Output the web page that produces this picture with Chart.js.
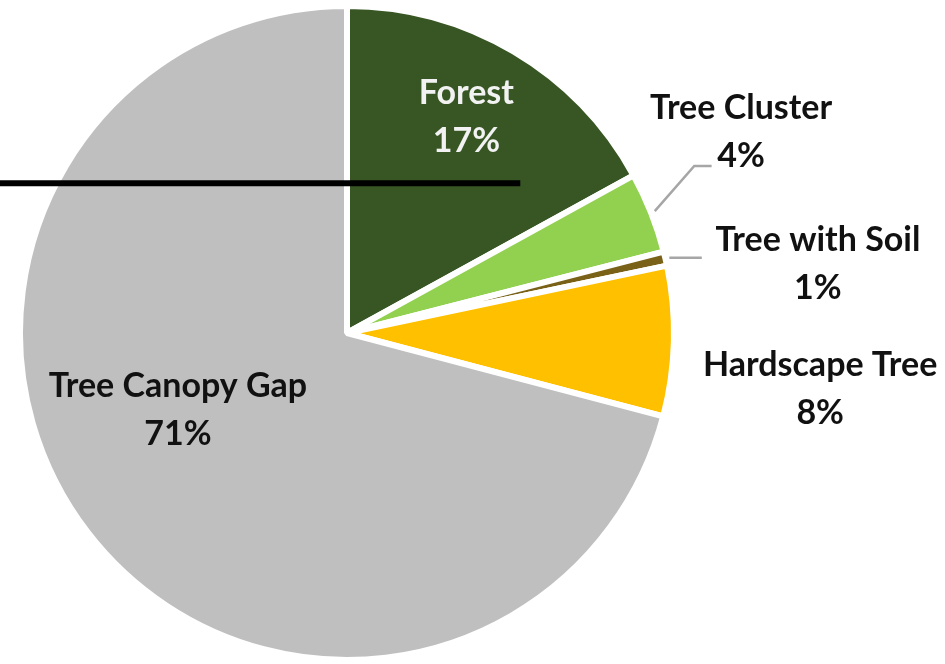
<!DOCTYPE html>
<html>
<head>
<meta charset="utf-8">
<script src="https://cdn.jsdelivr.net/npm/chart.js@4"></script>
<style>
  html, body { margin: 0; padding: 0; background: #ffffff; }
  #wrap { width: 945px; height: 664px; }
</style>
</head>
<body>
<div id="wrap"><canvas id="c" width="945" height="664"></canvas></div>
<script>
// ---- data ----
const categories = ['Forest', 'Tree Cluster', 'Tree with Soil', 'Hardscape Tree', 'Tree Canopy Gap'];
const shares = [17.0, 4.0, 0.7, 7.4, 70.9];
const pctLabels = ['17%', '4%', '1%', '8%', '71%'];
const sliceColors = ['#375623', '#92D050', '#7A6118', '#FFC000', '#BFBFBF'];

// ---- label layout (relative to pie centre, in units of radius) ----
const labelLayout = [
  { dx: 0.365, dy: -0.66, color: '#F2F2F2', leader: null },
  { dx: 1.205, dy: -0.615, color: '#111111', leader: { elbow: [1.062, -0.511], end: [1.115, -0.511] } },
  { dx: 1.44, dy: -0.21, color: '#111111', leader: { elbow: null, end: [1.085, null] } },
  { dx: 1.447, dy: 0.17, color: '#111111', leader: null },
  { dx: -0.517, dy: 0.235, color: '#111111', leader: null }
];
const FONT = 'bold 34px Lato, "Open Sans", sans-serif';
const LINE_H = 48;

const labelPlugin = {
  id: 'pieLabels',
  afterDatasetsDraw(chart) {
    const ctx = chart.ctx;
    const meta = chart.getDatasetMeta(0);
    const first = meta.data[0];
    const cx = first.x, cy = first.y, R = first.outerRadius;
    ctx.save();
    // stray black rule seen in the reference
    ctx.strokeStyle = '#000000';
    ctx.lineWidth = 6;
    ctx.lineCap = 'butt';
    ctx.beginPath();
    ctx.moveTo(0, cy - 0.458 * R);
    ctx.lineTo(cx + 0.53 * R, cy - 0.458 * R);
    ctx.stroke();

    ctx.font = FONT;
    ctx.textAlign = 'center';
    ctx.textBaseline = 'middle';
    meta.data.forEach((arc, i) => {
      const L = labelLayout[i];
      const tx = cx + L.dx * R, ty = cy + L.dy * R;
      if (L.leader) {
        const mid = (arc.startAngle + arc.endAngle) / 2;
        const sx = cx + (R + 4) * Math.cos(mid), sy = cy + (R + 4) * Math.sin(mid);
        ctx.strokeStyle = '#A6A6A6';
        ctx.lineWidth = 2.5;
        ctx.beginPath();
        ctx.moveTo(sx, sy);
        let py = sy;
        if (L.leader.elbow) {
          py = cy + L.leader.elbow[1] * R;
          ctx.lineTo(cx + L.leader.elbow[0] * R, py);
        }
        ctx.lineTo(cx + L.leader.end[0] * R, py);
        ctx.stroke();
      }
      ctx.fillStyle = L.color;
      ctx.fillText(categories[i], tx, ty - LINE_H / 2);
      ctx.fillText(pctLabels[i], tx, ty + LINE_H / 2);
    });
    ctx.restore();
  }
};

new Chart(document.getElementById('c'), {
  type: 'pie',
  data: {
    labels: categories,
    datasets: [{
      data: shares,
      backgroundColor: sliceColors,
      borderColor: '#FFFFFF',
      borderWidth: 6,
      hoverOffset: 0,
      hoverBorderWidth: 6
    }]
  },
  options: {
    responsive: false,
    animation: false,
    events: [],
    layout: { padding: { left: 17, right: 268, top: 3, bottom: 1 } },
    plugins: {
      legend: { display: false },
      tooltip: { enabled: false },
      title: { display: false }
    }
  },
  plugins: [labelPlugin]
});
</script>
</body>
</html>
